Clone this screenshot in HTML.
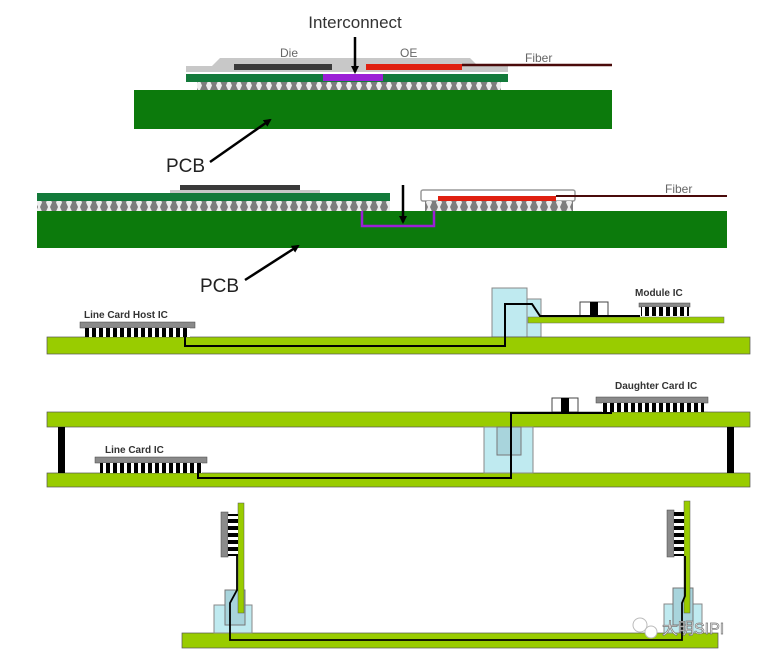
<!DOCTYPE html>
<html><head><meta charset="utf-8"><style>
html,body{margin:0;padding:0;background:#fff;width:760px;height:661px;overflow:hidden}
svg{display:block}
text{font-family:"Liberation Sans","Noto Sans CJK SC",sans-serif}
</style></head><body>
<svg width="760" height="661" viewBox="0 0 760 661" xmlns="http://www.w3.org/2000/svg">
<defs>
<marker id="ah" markerWidth="8" markerHeight="8" refX="6" refY="4" orient="auto" markerUnits="userSpaceOnUse"><path d="M0,0 L8,4 L0,8 Z" fill="#000"/></marker>
<pattern id="balls" width="10" height="9" patternUnits="userSpaceOnUse"><rect width="10" height="9" fill="#eee"/><path d="M0,0 h8 l-2,4.5 l2,4.5 h-8 l2,-4.5z" fill="#7d7d7d"/></pattern>
<pattern id="pins" width="7" height="7" patternUnits="userSpaceOnUse"><rect width="7" height="7" fill="#fff"/><rect x="1" width="4" height="7" fill="#000"/></pattern>
<pattern id="vpins" width="7" height="7" patternUnits="userSpaceOnUse"><rect width="7" height="7" fill="#fff"/><rect y="1" width="7" height="4" fill="#000"/></pattern>
</defs>

<!-- Section 1 -->
<text x="355" y="28" font-size="17" text-anchor="middle" fill="#333">Interconnect</text>
<path d="M186,72 V66 H212 L220,58 H470 L478,66 H508 V72 Z" fill="#c8c8c8"/>
<rect x="234" y="64" width="98" height="6" fill="#3a3a3a"/>
<rect x="366" y="64" width="96" height="6" fill="#e02010"/>
<line x1="462" y1="65" x2="612" y2="65" stroke="#4a0a0a" stroke-width="2.5"/>
<rect x="186" y="74" width="322" height="8" fill="#137a3a"/>
<rect x="323" y="74" width="60" height="7" fill="#9b1fd6"/>
<rect x="197" y="82" width="304" height="8" fill="url(#balls)"/>
<rect x="134" y="90" width="478" height="39" fill="#0c7a0c"/>
<text x="280" y="57" font-size="12" fill="#666">Die</text>
<text x="400" y="57" font-size="12" fill="#666">OE</text>
<text x="525" y="62" font-size="12" fill="#666">Fiber</text>
<line x1="355" y1="37" x2="355" y2="72" stroke="#000" stroke-width="2.5" marker-end="url(#ah)"/>
<text x="166" y="172" font-size="19" fill="#222">PCB</text>
<line x1="210" y1="162" x2="270" y2="120" stroke="#000" stroke-width="2.5" marker-end="url(#ah)"/>

<!-- Section 2 -->
<rect x="180" y="185" width="120" height="5" fill="#3a3a3a"/>
<rect x="170" y="190" width="150" height="3" fill="#c8c8c8"/>
<rect x="37" y="193" width="353" height="8" fill="#137a3a"/>
<rect x="37" y="201" width="353" height="10" fill="url(#balls)"/>
<rect x="421" y="190" width="154" height="11" fill="#fff" stroke="#999" stroke-width="1.5" rx="2"/>
<rect x="438" y="196" width="118" height="5" fill="#e02010"/>
<line x1="556" y1="196" x2="727" y2="196" stroke="#4a0a0a" stroke-width="2"/>
<rect x="425" y="201" width="148" height="10" fill="url(#balls)"/>
<rect x="37" y="211" width="690" height="37" fill="#0c7a0c"/>
<path d="M362,211 V226 H434 V211" fill="none" stroke="#9b1fd6" stroke-width="2.5"/>
<line x1="403" y1="185" x2="403" y2="222" stroke="#000" stroke-width="2.5" marker-end="url(#ah)"/>
<text x="665" y="193" font-size="12" fill="#666">Fiber</text>
<text x="200" y="292" font-size="19" fill="#222">PCB</text>
<line x1="245" y1="280" x2="298" y2="246" stroke="#000" stroke-width="2.5" marker-end="url(#ah)"/>

<!-- Section 3 -->
<rect x="492" y="288" width="35" height="49" fill="#bfeaf0" stroke="#888" stroke-width="1"/>
<rect x="527" y="299" width="14" height="38" fill="#bfeaf0" stroke="#888" stroke-width="1"/>
<rect x="528" y="317" width="196" height="6" fill="#99cc00" stroke="#666" stroke-width="0.5"/>
<rect x="580" y="302" width="28" height="14" fill="#fff" stroke="#444"/>
<rect x="590" y="302" width="8" height="14" fill="#000"/>
<rect x="639" y="303" width="51" height="4" fill="#8a8a8a" stroke="#444" stroke-width="0.5"/>
<rect x="641" y="307" width="48" height="9" fill="url(#pins)"/>
<text x="635" y="296" font-size="10" font-weight="bold" fill="#333">Module IC</text>
<rect x="47" y="337" width="703" height="17" fill="#99cc00" stroke="#555" stroke-width="0.7"/>
<rect x="80" y="322" width="115" height="6" fill="#8a8a8a" stroke="#444" stroke-width="0.5"/>
<rect x="85" y="328" width="105" height="9" fill="url(#pins)"/>
<text x="84" y="318" font-size="10" font-weight="bold" fill="#333">Line Card Host IC</text>
<path d="M185,330 V346 H505 V304 H532 L540,316 H640" fill="none" stroke="#000" stroke-width="2"/>

<!-- Section 4 -->
<rect x="47" y="412" width="703" height="15" fill="#99cc00" stroke="#555" stroke-width="0.7"/>
<rect x="47" y="473" width="703" height="14" fill="#99cc00" stroke="#555" stroke-width="0.7"/>
<rect x="58" y="427" width="7" height="46" fill="#000"/>
<rect x="727" y="427" width="7" height="46" fill="#000"/>
<rect x="484" y="427" width="49" height="46" fill="#bfeaf0" stroke="#888"/>
<rect x="497" y="427" width="24" height="28" fill="#a8d4dc" stroke="#777"/>
<rect x="552" y="398" width="26" height="14" fill="#fff" stroke="#444"/>
<rect x="561" y="398" width="8" height="14" fill="#000"/>
<rect x="596" y="397" width="112" height="6" fill="#8a8a8a" stroke="#444" stroke-width="0.5"/>
<rect x="602" y="403" width="102" height="9" fill="url(#pins)"/>
<text x="615" y="389" font-size="10" font-weight="bold" fill="#333">Daughter Card IC</text>
<rect x="95" y="457" width="112" height="6" fill="#8a8a8a" stroke="#444" stroke-width="0.5"/>
<rect x="100" y="463" width="102" height="10" fill="url(#pins)"/>
<text x="105" y="453" font-size="10" font-weight="bold" fill="#333">Line Card IC</text>
<path d="M198,464 V478 H511 V413 H612" fill="none" stroke="#000" stroke-width="2"/>

<!-- Section 5 -->
<rect x="182" y="633" width="536" height="15" fill="#99cc00" stroke="#555" stroke-width="0.7"/>
<rect x="214" y="605" width="38" height="28" fill="#bfeaf0" stroke="#888"/>
<rect x="225" y="590" width="20" height="35" fill="#a8d4dc" stroke="#777"/>
<rect x="238" y="503" width="6" height="110" fill="#99cc00" stroke="#555" stroke-width="0.5"/>
<rect x="221" y="512" width="7" height="45" fill="#8a8a8a" stroke="#444" stroke-width="0.5"/>
<rect x="228" y="514" width="10" height="42" fill="url(#vpins)"/>
<rect x="664" y="604" width="38" height="29" fill="#bfeaf0" stroke="#888"/>
<rect x="673" y="588" width="20" height="37" fill="#a8d4dc" stroke="#777"/>
<rect x="684" y="501" width="6" height="112" fill="#99cc00" stroke="#555" stroke-width="0.5"/>
<rect x="667" y="510" width="7" height="47" fill="#8a8a8a" stroke="#444" stroke-width="0.5"/>
<rect x="674" y="512" width="10" height="44" fill="url(#vpins)"/>
<path d="M237,556 V590 L230,603 V640 H682 V603 L685,596 V556" fill="none" stroke="#000" stroke-width="1.8"/>
<text x="662" y="634" font-size="16" fill="#fff" stroke="#777" stroke-width="0.7">大明SIPI</text>
<circle cx="640" cy="625" r="7" fill="#fff" stroke="#bbb"/>
<circle cx="651" cy="632" r="6" fill="#fff" stroke="#bbb"/>
</svg>
</body></html>
